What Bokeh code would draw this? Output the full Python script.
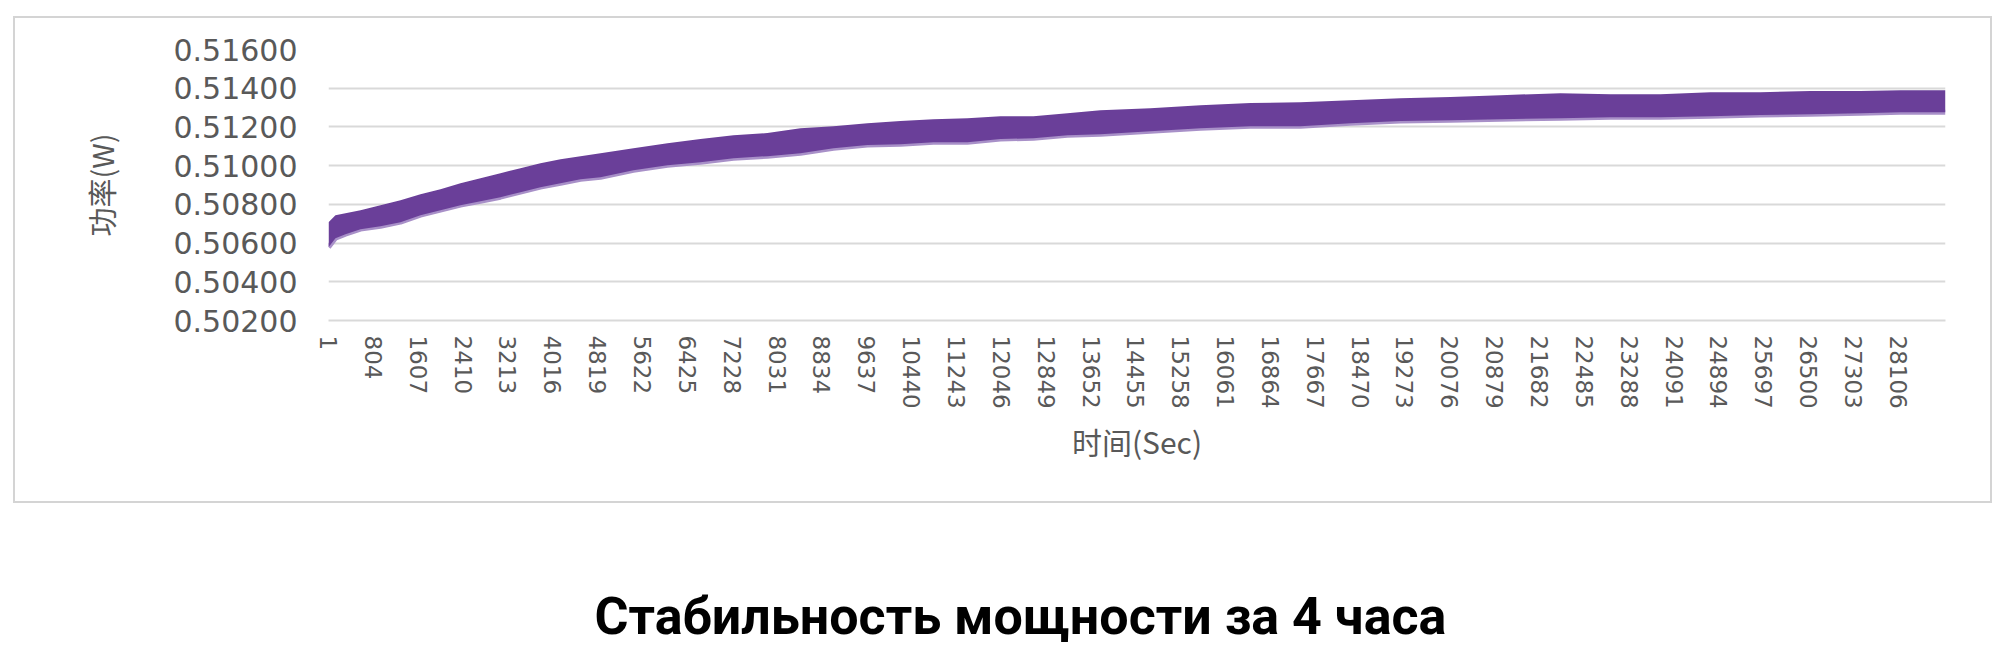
from bokeh.plotting import figure
from bokeh.layouts import column, row
from bokeh.models import FixedTicker, Label, Range1d, ColumnDataSource, Spacer
from bokeh.embed import file_html
from bokeh.resources import INLINE

# ---- data ----
sample_index = [1, 125, 304, 573, 931, 1289, 1647, 2005, 2363, 2721,
                3079, 3437, 3795, 4154, 4512, 4870, 5460, 6069, 6660, 7251,
                7859, 8450, 9041, 9650, 10241, 10831, 11440, 12031, 12622, 13230,
                13821, 14716, 15611, 16507, 17402, 18297, 19192, 20087, 20983, 22057,
                22952, 23847, 24742, 25637, 26532, 27428, 28144, 28950]
power_upper = [0.50708, 0.50744, 0.50754, 0.50770, 0.50796, 0.50821, 0.50852, 0.50878, 0.50909, 0.50935,
               0.50961, 0.50987, 0.51013, 0.51033, 0.51049, 0.51064, 0.51090, 0.51116, 0.51137, 0.51157,
               0.51168, 0.51193, 0.51204, 0.51219, 0.51230, 0.51240, 0.51245, 0.51255, 0.51255, 0.51271,
               0.51286, 0.51297, 0.51312, 0.51323, 0.51328, 0.51338, 0.51348, 0.51354, 0.51364, 0.51374,
               0.51369, 0.51369, 0.51379, 0.51379, 0.51385, 0.51385, 0.51390, 0.51390]
power_lower = [0.50579, 0.50625, 0.50646, 0.50672, 0.50687, 0.50708, 0.50744, 0.50770, 0.50796, 0.50816,
               0.50837, 0.50863, 0.50889, 0.50909, 0.50930, 0.50940, 0.50976, 0.51002, 0.51018, 0.51038,
               0.51049, 0.51064, 0.51090, 0.51106, 0.51111, 0.51121, 0.51121, 0.51137, 0.51142, 0.51157,
               0.51162, 0.51178, 0.51193, 0.51204, 0.51204, 0.51219, 0.51230, 0.51235, 0.51240, 0.51245,
               0.51250, 0.51250, 0.51255, 0.51261, 0.51266, 0.51271, 0.51276, 0.51276]
n_samples = 28950

x_ticks = [1, 804, 1607, 2410, 3213, 4016, 4819, 5622, 6425, 7228, 8031, 8834,
           9637, 10440, 11243, 12046, 12849, 13652, 14455, 15258, 16061, 16864,
           17667, 18470, 19273, 20076, 20879, 21682, 22485, 23288, 24091, 24894,
           25697, 26500, 27303, 28106]
x_tick_labels = [str(t) for t in x_ticks]
y_ticks = [0.502, 0.504, 0.506, 0.508, 0.510, 0.512, 0.514, 0.516]
y_tick_labels = ["0.50200", "0.50400", "0.50600", "0.50800", "0.51000", "0.51200", "0.51400", "0.51600"]

x_title = "时间(Sec)"
y_title = "功率(W)"
caption = "Стабильность мощности за 4 часа"

# ---- styling ----
PURPLE = "#6a3f99"
PURPLE_LIGHT = "#a890c8"
GRID = "#d9d9d9"
BOX = "#d4d4d4"
LABEL = "#595959"

src = ColumnDataSource(dict(x=sample_index, upper=power_upper, lower=power_lower))

p = figure(width=1975, height=483, output_backend="svg", toolbar_location=None,
           x_range=Range1d(0.5, n_samples + 0.5), y_range=Range1d(y_ticks[0], y_ticks[-1]),
           min_border_left=313, min_border_right=45, min_border_top=31, min_border_bottom=181)
p.outline_line_color = None
p.background_fill_color = "white"
p.border_fill_color = "white"

p.xgrid.visible = False
p.ygrid.grid_line_color = GRID
p.ygrid.grid_line_width = 2

p.line("x", "lower", source=src, line_color=PURPLE_LIGHT, line_width=5)
p.varea(x="x", y1="lower", y2="upper", source=src, fill_color=PURPLE)

# y axis
ya = p.yaxis[0]
ya.ticker = FixedTicker(ticks=y_ticks)
ya.major_label_overrides = dict(zip(y_ticks, y_tick_labels))
ya.axis_line_color = None
ya.major_tick_line_color = None
ya.minor_tick_line_color = None
ya.major_label_standoff = 25
ya.major_label_text_font = "DejaVu Sans"
ya.major_label_text_font_size = "30px"
ya.major_label_text_color = LABEL
ya.axis_label = y_title
ya.axis_label_text_font = "Noto Sans CJK SC"
ya.axis_label_text_font_size = "29px"
ya.axis_label_text_font_style = "normal"
ya.axis_label_text_color = LABEL
ya.axis_label_standoff = 48

# x axis
xa = p.xaxis[0]
xa.ticker = FixedTicker(ticks=x_ticks)
xa.major_label_overrides = dict(zip(x_ticks, x_tick_labels))
xa.major_label_orientation = "vertical"
xa.axis_line_color = GRID
xa.axis_line_width = 2
xa.major_tick_line_color = None
xa.minor_tick_line_color = None
xa.major_label_standoff = 9
xa.major_label_text_font = "DejaVu Sans"
xa.major_label_text_font_size = "23px"
xa.major_label_text_color = LABEL
xa.axis_label = x_title
xa.axis_label_text_font = "Noto Sans CJK SC"
xa.axis_label_text_font_size = "30px"
xa.axis_label_text_font_style = "normal"
xa.axis_label_text_color = LABEL
xa.axis_label_standoff = 7

# light grey frame around the chart, built from solid spacers
gray = {"background-color": BOX}
box = column(
    Spacer(width=1979, height=2, styles=gray),
    row(Spacer(width=2, height=483, styles=gray), p, Spacer(width=2, height=483, styles=gray), spacing=0),
    Spacer(width=1979, height=2, styles=gray),
    spacing=0, margin=(16, 0, 0, 13))

# caption below the chart box
cap = figure(width=1979, height=150, output_backend="svg", toolbar_location=None,
             x_range=Range1d(0, 1979), y_range=Range1d(0, 150),
             x_axis_location=None, y_axis_location=None,
             min_border=0, margin=(0, 0, 0, 13))
cap.grid.visible = False
cap.outline_line_color = None
cap.background_fill_color = "white"
cap.border_fill_color = "white"
cap.add_layout(Label(x=1007, y=37, text=caption,
                     text_font="Roboto", text_font_style="bold",
                     text_font_size="52px", text_color="black",
                     text_align="center", text_baseline="alphabetic"))

layout = column(box, cap, spacing=0)
open("out.html", "w").write(file_html(layout, INLINE))
